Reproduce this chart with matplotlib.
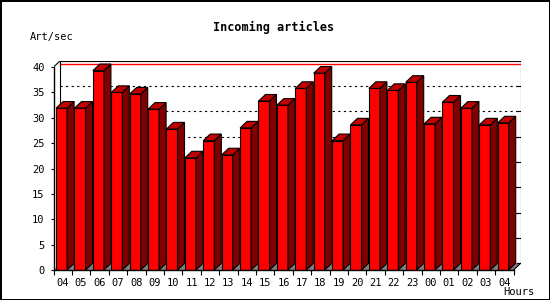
import matplotlib
matplotlib.use('Agg')
import matplotlib.pyplot as plt
from matplotlib.patches import Polygon, Rectangle

hours = ['04', '05', '06', '07', '08', '09', '10', '11', '12', '13', '14', '15', '16',
         '17', '18', '19', '20', '21', '22', '23', '00', '01', '02', '03', '04']
rates = [31.9, 31.9, 39.3, 35.0, 34.7, 31.7, 27.8, 22.1, 25.5, 22.7, 28.0, 33.3, 32.5,
         35.8, 38.8, 25.5, 28.6, 35.8, 35.4, 37.0, 28.8, 33.1, 31.9, 28.6, 29.0]
yticks = [0, 5, 10, 15, 20, 25, 30, 35, 40]

# depth of the fake 3d, in data units
DX = 0.38
DY = 1.3
W = 0.6
OFF = 0.14
YMAX = 40
n = len(rates)
x0, x1 = -0.5, n - 0.5

fig = plt.figure(figsize=(5.5, 3), dpi=100)
fig.patch.set_edgecolor('black')
fig.patch.set_linewidth(1.0)
ax = fig.add_axes([53.5 / 550, 30 / 300, 467 / 550, 209.5 / 300])
ax.set_xlim(x0, x1 + DX)
ax.set_ylim(0, YMAX + DY)
ax.patch.set_visible(False)

lw = 0.8
# floor
ax.add_patch(Polygon([(x0, 0), (x1, 0), (x1 + DX, DY), (x0 + DX, DY)],
                     closed=True, facecolor='#808080', edgecolor='none', zorder=1))
# back grid + walls
for v in yticks[1:-1]:
    ax.plot([x0 + DX, x1 + DX], [v + DY, v + DY], color='black', lw=lw,
            linestyle=(0, (2, 3)), zorder=1)
for v in yticks[:-1]:
    ax.plot([x1 + DX - 0.17, x1 + DX], [v + DY, v + DY], color='black', lw=lw, zorder=1)
ax.plot([x0 + DX, x1 + DX], [max(rates) + DY + 0.05] * 2, color='red', lw=1.0, zorder=1)
ax.plot([x0 + DX, x0 + DX, x1 + DX, x1 + DX], [DY, YMAX + DY, YMAX + DY, DY],
        color='black', lw=lw, zorder=1)
ax.plot([x0, x0 + DX], [YMAX, YMAX + DY], color='black', lw=lw, zorder=1)
ax.plot([x1, x1 + DX], [0, DY], color='black', lw=lw, zorder=1)

# bars
for i, v in enumerate(rates):
    l = i - 0.5 + OFF
    r = l + W
    ax.add_patch(Rectangle((l, 0), W, v, facecolor='#ff0000', edgecolor='black',
                           lw=lw, zorder=3))
    ax.add_patch(Polygon([(r, 0), (r + DX, DY), (r + DX, v + DY), (r, v)], closed=True,
                         facecolor='#800000', edgecolor='black', lw=lw, zorder=3))
    ax.add_patch(Polygon([(l, v), (r, v), (r + DX, v + DY), (l + DX, v + DY)], closed=True,
                         facecolor='#c00000', edgecolor='black', lw=lw, zorder=3))

for s in ['top', 'right']:
    ax.spines[s].set_visible(False)
ax.spines['left'].set_bounds(0, YMAX)
ax.spines['bottom'].set_bounds(x0, x1)
for s in ['left', 'bottom']:
    ax.spines[s].set_linewidth(1.0)
    ax.spines[s].set_zorder(4)

font = 'DejaVu Sans Mono'
ax.set_yticks(yticks)
ax.set_yticklabels([str(t) for t in yticks], family=font, fontsize=7.5)
ax.tick_params(axis='y', length=2.5, width=0.8, pad=4)
ax.set_xticks(range(n))
ax.set_xticklabels(hours, family=font, fontsize=7.5)
ax.set_xticks([i - 0.5 for i in range(n + 1)], minor=True)
ax.tick_params(axis='x', which='major', length=0, pad=6)
ax.tick_params(axis='x', which='minor', length=3.5, width=0.8)

fig.text(274 / 550, 1 - 27 / 300, 'Incoming articles', family=font, fontweight='bold',
         fontsize=8.5, ha='center', va='center')
fig.text(30 / 550, 1 - 37 / 300, 'Art/sec', family=font, fontsize=7.5, ha='left', va='center')
fig.text(503 / 550, 1 - 292 / 300, 'Hours', family=font, fontsize=7.5, ha='left', va='center')

fig.savefig('out.png', dpi=100, edgecolor=fig.get_edgecolor())
